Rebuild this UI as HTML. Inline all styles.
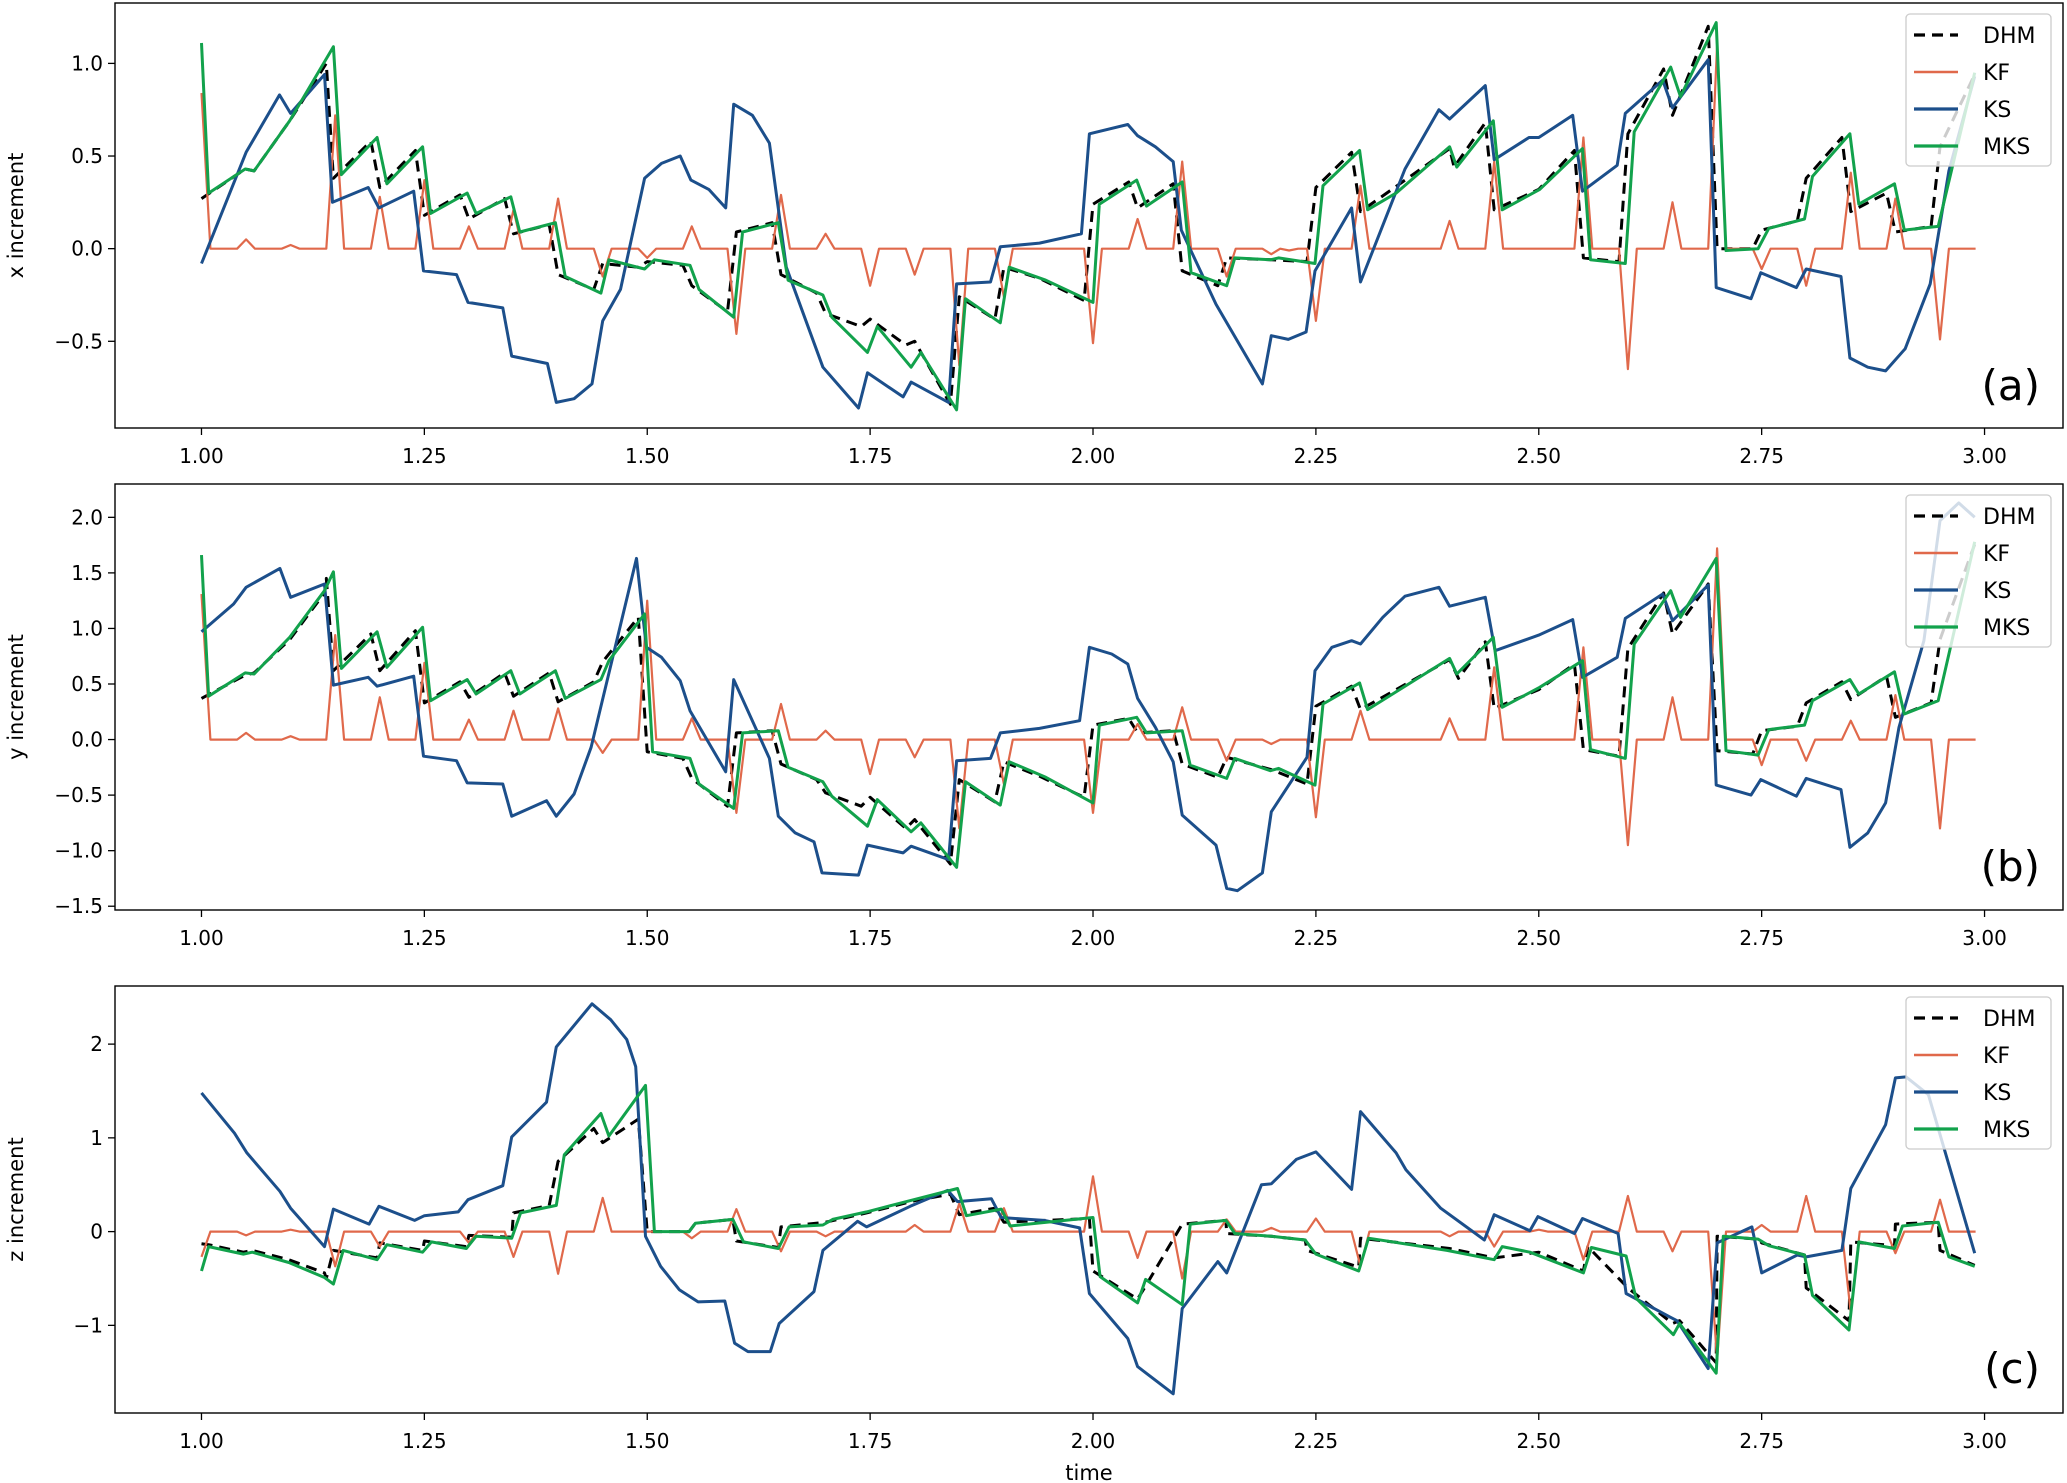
<!DOCTYPE html>
<html><head><meta charset="utf-8"><style>
html,body{margin:0;padding:0;background:#fff;}
svg{display:block;font-family:"DejaVu Sans","Liberation Sans",sans-serif;}
</style></head><body>
<svg id="chart" width="2067" height="1483" viewBox="0 0 2067 1483" xmlns="http://www.w3.org/2000/svg">
<rect x="0" y="0" width="2067" height="1483" fill="#fff"/>
<text x="1089" y="1480" font-size="21" text-anchor="middle" fill="#000">time</text>
</svg>
<script>
const xTicks = [1.00,1.25,1.50,1.75,2.00,2.25,2.50,2.75,3.00];
const xTickLabels = ["1.00","1.25","1.50","1.75","2.00","2.25","2.50","2.75","3.00"];
const seriesNames = ["DHM","KF","KS","MKS"];
const panelNames = ["x increment","y increment","z increment"];
const panelTags = ["(a)","(b)","(c)"];
const yTicksA = [-0.5,0,0.5,1.0];
const yTickLabelsA = ["\u22120.5","0.0","0.5","1.0"];
const yTicksB = [-1.5,-1.0,-0.5,0,0.5,1.0,1.5,2.0];
const yTickLabelsB = ["\u22121.5","\u22121.0","\u22120.5","0.0","0.5","1.0","1.5","2.0"];
const yTicksC = [-1,0,1,2];
const yTickLabelsC = ["\u22121","0","1","2"];

// KF spikes (time, value); baseline 0 between spikes
const kfA_t = [1.00,1.05,1.10,1.15,1.20,1.25,1.30,1.35,1.40,1.45,1.50,1.55,1.60,1.65,1.70,1.75,1.80,1.85,1.90,2.00,2.05,2.10,2.15,2.20,2.22,2.25,2.30,2.40,2.45,2.55,2.60,2.65,2.70,2.75,2.80,2.85,2.90,2.95];
const kfA_v = [0.84,0.05,0.02,0.72,0.28,0.37,0.12,0.21,0.27,-0.15,-0.05,0.12,-0.46,0.29,0.08,-0.2,-0.14,-0.63,-0.26,-0.51,0.16,0.47,-0.15,-0.03,-0.01,-0.39,0.34,0.15,0.47,0.6,-0.65,0.25,1.1,-0.11,-0.2,0.41,0.27,-0.49];
const kfB_t = [1.00,1.05,1.10,1.15,1.20,1.25,1.30,1.35,1.40,1.45,1.50,1.55,1.60,1.65,1.70,1.75,1.80,1.85,1.90,2.00,2.05,2.10,2.15,2.20,2.25,2.30,2.40,2.45,2.55,2.60,2.65,2.70,2.75,2.80,2.85,2.90,2.95];
const kfB_v = [1.31,0.06,0.03,0.94,0.38,0.69,0.18,0.26,0.28,-0.12,1.25,0.19,-0.66,0.32,0.08,-0.31,-0.16,-0.8,-0.4,-0.66,0.14,0.29,-0.19,-0.04,-0.7,0.26,0.19,0.65,0.83,-0.95,0.38,1.72,-0.23,-0.19,0.17,0.4,-0.8];
const kfC_t = [1.00,1.05,1.10,1.15,1.20,1.30,1.35,1.40,1.45,1.55,1.60,1.65,1.70,1.80,1.85,1.90,2.00,2.05,2.10,2.15,2.20,2.25,2.30,2.40,2.45,2.50,2.55,2.60,2.65,2.70,2.75,2.80,2.85,2.90,2.95];
const kfC_v = [-0.27,-0.04,0.02,-0.37,-0.16,-0.12,-0.27,-0.45,0.36,-0.07,0.24,-0.21,-0.05,0.07,0.30,0.25,0.59,-0.28,-0.5,0.13,0.04,0.14,-0.37,-0.05,-0.16,0.02,-0.30,0.38,-0.21,-1.37,0.07,0.38,-0.87,-0.23,0.34];

const ksA = [[1.0,-0.08],[1.05,0.52],[1.0875,0.83],[1.10,0.73],[1.138,0.94],[1.147,0.25],[1.187,0.33],[1.199,0.22],[1.238,0.31],[1.249,-0.12],[1.286,-0.14],[1.299,-0.29],[1.338,-0.32],[1.348,-0.58],[1.388,-0.62],[1.398,-0.83],[1.418,-0.81],[1.438,-0.73],[1.45,-0.39],[1.47,-0.22],[1.497,0.38],[1.516,0.46],[1.537,0.50],[1.549,0.37],[1.569,0.32],[1.588,0.22],[1.597,0.78],[1.618,0.72],[1.637,0.57],[1.656,-0.10],[1.697,-0.64],[1.737,-0.86],[1.747,-0.67],[1.787,-0.80],[1.796,-0.72],[1.838,-0.83],[1.847,-0.19],[1.885,-0.18],[1.896,0.01],[1.94,0.03],[1.987,0.08],[1.996,0.62],[2.039,0.67],[2.05,0.61],[2.07,0.55],[2.09,0.47],[2.099,0.10],[2.138,-0.30],[2.19,-0.73],[2.2,-0.47],[2.219,-0.49],[2.239,-0.45],[2.249,-0.12],[2.29,0.22],[2.30,-0.18],[2.35,0.43],[2.388,0.75],[2.40,0.70],[2.44,0.88],[2.45,0.48],[2.489,0.60],[2.50,0.60],[2.538,0.72],[2.549,0.31],[2.588,0.45],[2.597,0.73],[2.639,0.91],[2.65,0.76],[2.69,1.02],[2.699,-0.21],[2.738,-0.27],[2.749,-0.13],[2.789,-0.21],[2.80,-0.11],[2.839,-0.15],[2.849,-0.59],[2.869,-0.64],[2.889,-0.66],[2.911,-0.54],[2.939,-0.19],[2.96,0.42],[2.989,0.93]];
const mksA = [[1.0,1.11],[1.008,0.30],[1.049,0.43],[1.059,0.42],[1.099,0.69],[1.148,1.09],[1.157,0.40],[1.197,0.60],[1.208,0.35],[1.248,0.55],[1.257,0.19],[1.298,0.30],[1.308,0.19],[1.347,0.28],[1.357,0.09],[1.397,0.14],[1.408,-0.15],[1.448,-0.24],[1.457,-0.06],[1.497,-0.11],[1.508,-0.06],[1.548,-0.09],[1.558,-0.22],[1.597,-0.37],[1.607,0.09],[1.647,0.14],[1.658,-0.17],[1.697,-0.25],[1.707,-0.37],[1.747,-0.56],[1.758,-0.42],[1.796,-0.64],[1.807,-0.56],[1.847,-0.87],[1.857,-0.27],[1.896,-0.40],[1.906,-0.10],[1.947,-0.17],[2.0,-0.29],[2.007,0.24],[2.049,0.37],[2.06,0.23],[2.10,0.36],[2.11,-0.13],[2.15,-0.20],[2.159,-0.05],[2.199,-0.06],[2.208,-0.05],[2.249,-0.08],[2.258,0.34],[2.299,0.53],[2.308,0.21],[2.34,0.30],[2.40,0.55],[2.408,0.44],[2.449,0.69],[2.459,0.21],[2.501,0.32],[2.549,0.54],[2.558,-0.06],[2.597,-0.08],[2.607,0.63],[2.648,0.98],[2.659,0.82],[2.699,1.22],[2.71,-0.01],[2.746,0.0],[2.758,0.11],[2.798,0.16],[2.807,0.39],[2.849,0.62],[2.859,0.24],[2.899,0.35],[2.91,0.10],[2.948,0.12],[2.989,0.95]];
const dhmA = [[1.0,0.27],[1.049,0.43],[1.059,0.42],[1.099,0.69],[1.14,1.0],[1.148,0.38],[1.19,0.58],[1.2,0.33],[1.24,0.53],[1.25,0.18],[1.29,0.29],[1.3,0.16],[1.34,0.27],[1.35,0.08],[1.39,0.13],[1.4,-0.14],[1.44,-0.22],[1.45,-0.08],[1.49,-0.1],[1.5,-0.07],[1.54,-0.09],[1.55,-0.2],[1.59,-0.34],[1.6,0.09],[1.64,0.14],[1.65,-0.14],[1.69,-0.24],[1.7,-0.35],[1.74,-0.42],[1.75,-0.38],[1.79,-0.52],[1.8,-0.5],[1.84,-0.84],[1.85,-0.26],[1.89,-0.38],[1.9,-0.1],[1.94,-0.16],[1.99,-0.28],[2.0,0.24],[2.04,0.36],[2.05,0.22],[2.09,0.35],[2.1,-0.12],[2.14,-0.2],[2.15,-0.05],[2.2,-0.06],[2.24,-0.07],[2.25,0.33],[2.29,0.52],[2.3,0.2],[2.4,0.54],[2.405,0.44],[2.44,0.68],[2.45,0.21],[2.5,0.32],[2.54,0.53],[2.55,-0.05],[2.59,-0.07],[2.6,0.62],[2.64,0.97],[2.65,0.72],[2.69,1.2],[2.7,0],[2.74,0],[2.75,0.1],[2.79,0.15],[2.8,0.38],[2.84,0.6],[2.85,0.2],[2.89,0.3],[2.9,0.09],[2.94,0.12],[2.95,0.55],[2.99,0.95]];

const ksB = [[1.0,0.97],[1.036,1.22],[1.05,1.37],[1.088,1.54],[1.10,1.28],[1.138,1.40],[1.148,0.49],[1.187,0.56],[1.197,0.48],[1.238,0.57],[1.249,-0.15],[1.286,-0.19],[1.298,-0.39],[1.338,-0.40],[1.348,-0.69],[1.387,-0.55],[1.398,-0.69],[1.418,-0.49],[1.437,-0.07],[1.488,1.63],[1.499,0.83],[1.516,0.74],[1.537,0.53],[1.548,0.26],[1.588,-0.29],[1.597,0.54],[1.637,-0.17],[1.647,-0.69],[1.666,-0.84],[1.687,-0.92],[1.696,-1.20],[1.737,-1.22],[1.747,-0.95],[1.787,-1.02],[1.796,-0.96],[1.838,-1.08],[1.847,-0.19],[1.885,-0.17],[1.896,0.06],[1.94,0.10],[1.985,0.17],[1.996,0.83],[2.021,0.77],[2.039,0.68],[2.05,0.37],[2.07,0.11],[2.09,-0.2],[2.10,-0.68],[2.138,-0.95],[2.15,-1.34],[2.162,-1.36],[2.19,-1.20],[2.20,-0.65],[2.24,-0.16],[2.249,0.62],[2.268,0.83],[2.29,0.89],[2.30,0.86],[2.325,1.10],[2.35,1.29],[2.388,1.37],[2.40,1.20],[2.44,1.28],[2.451,0.80],[2.50,0.94],[2.538,1.08],[2.549,0.56],[2.588,0.74],[2.597,1.09],[2.639,1.31],[2.65,1.07],[2.69,1.39],[2.699,-0.41],[2.738,-0.50],[2.749,-0.36],[2.789,-0.51],[2.80,-0.35],[2.839,-0.45],[2.849,-0.97],[2.869,-0.84],[2.889,-0.57],[2.904,0.11],[2.932,0.89],[2.95,1.97],[2.971,2.13],[2.989,2.0]];
const mksB = [[1.0,1.66],[1.008,0.39],[1.049,0.60],[1.059,0.59],[1.099,0.92],[1.138,1.34],[1.148,1.51],[1.157,0.64],[1.197,0.97],[1.208,0.65],[1.248,1.01],[1.257,0.35],[1.298,0.54],[1.308,0.41],[1.347,0.62],[1.357,0.41],[1.397,0.62],[1.408,0.37],[1.448,0.54],[1.457,0.71],[1.497,1.13],[1.506,-0.11],[1.548,-0.17],[1.558,-0.40],[1.597,-0.62],[1.607,0.06],[1.647,0.08],[1.658,-0.25],[1.697,-0.38],[1.707,-0.51],[1.747,-0.78],[1.758,-0.54],[1.796,-0.83],[1.807,-0.75],[1.847,-1.15],[1.857,-0.38],[1.896,-0.59],[1.906,-0.20],[1.947,-0.34],[2.0,-0.57],[2.007,0.13],[2.049,0.20],[2.06,0.06],[2.10,0.08],[2.109,-0.23],[2.15,-0.35],[2.159,-0.17],[2.199,-0.28],[2.208,-0.26],[2.249,-0.41],[2.258,0.32],[2.299,0.51],[2.308,0.27],[2.40,0.73],[2.408,0.59],[2.449,0.92],[2.459,0.29],[2.501,0.47],[2.549,0.71],[2.558,-0.09],[2.597,-0.17],[2.607,0.86],[2.648,1.34],[2.659,1.10],[2.699,1.63],[2.71,-0.10],[2.746,-0.14],[2.758,0.09],[2.798,0.13],[2.807,0.35],[2.849,0.54],[2.859,0.41],[2.899,0.61],[2.91,0.23],[2.948,0.35],[2.989,1.78]];
const dhmB = [[1.0,0.37],[1.049,0.58],[1.059,0.6],[1.099,0.9],[1.138,1.32],[1.14,1.45],[1.148,0.62],[1.19,0.95],[1.2,0.62],[1.24,0.98],[1.25,0.33],[1.29,0.52],[1.3,0.38],[1.34,0.6],[1.35,0.39],[1.39,0.6],[1.4,0.34],[1.44,0.52],[1.45,0.7],[1.49,1.1],[1.5,-0.11],[1.54,-0.17],[1.55,-0.35],[1.59,-0.6],[1.6,0.06],[1.64,0.08],[1.65,-0.22],[1.69,-0.36],[1.7,-0.48],[1.74,-0.6],[1.75,-0.52],[1.79,-0.8],[1.8,-0.72],[1.84,-1.12],[1.85,-0.36],[1.89,-0.56],[1.9,-0.2],[1.94,-0.33],[1.99,-0.52],[2.0,0.13],[2.04,0.19],[2.05,0.06],[2.09,0.08],[2.1,-0.22],[2.14,-0.34],[2.15,-0.16],[2.2,-0.27],[2.24,-0.4],[2.25,0.3],[2.29,0.48],[2.3,0.27],[2.4,0.72],[2.41,0.55],[2.44,0.88],[2.45,0.28],[2.5,0.45],[2.54,0.68],[2.55,-0.09],[2.59,-0.15],[2.6,0.82],[2.64,1.32],[2.65,0.95],[2.69,1.4],[2.7,-0.1],[2.74,-0.13],[2.75,0.08],[2.79,0.12],[2.8,0.33],[2.84,0.52],[2.85,0.36],[2.89,0.57],[2.9,0.2],[2.94,0.33],[2.95,0.9],[2.99,1.78]];

const ksC = [[1.0,1.48],[1.037,1.05],[1.051,0.84],[1.088,0.43],[1.10,0.25],[1.138,-0.16],[1.148,0.24],[1.188,0.08],[1.199,0.27],[1.239,0.12],[1.25,0.17],[1.288,0.21],[1.299,0.34],[1.338,0.49],[1.348,1.01],[1.387,1.38],[1.398,1.97],[1.438,2.43],[1.459,2.26],[1.477,2.05],[1.487,1.76],[1.498,-0.05],[1.515,-0.37],[1.536,-0.62],[1.557,-0.75],[1.587,-0.74],[1.598,-1.19],[1.613,-1.28],[1.638,-1.28],[1.648,-0.98],[1.687,-0.64],[1.697,-0.20],[1.736,0.11],[1.746,0.05],[1.795,0.27],[1.837,0.44],[1.848,0.32],[1.886,0.35],[1.897,0.15],[1.945,0.12],[1.985,0.04],[1.996,-0.66],[2.039,-1.14],[2.05,-1.44],[2.09,-1.73],[2.10,-0.82],[2.14,-0.32],[2.15,-0.44],[2.189,0.50],[2.20,0.51],[2.228,0.77],[2.25,0.85],[2.29,0.45],[2.30,1.28],[2.34,0.84],[2.351,0.66],[2.39,0.25],[2.439,-0.09],[2.45,0.18],[2.49,0.01],[2.499,0.16],[2.54,-0.02],[2.549,0.14],[2.589,-0.02],[2.598,-0.66],[2.647,-0.91],[2.655,-0.95],[2.69,-1.46],[2.70,-0.12],[2.739,0.05],[2.75,-0.44],[2.79,-0.25],[2.80,-0.27],[2.84,-0.20],[2.85,0.46],[2.889,1.14],[2.90,1.64],[2.912,1.65],[2.937,1.46],[2.989,-0.23]];
const mksC = [[1.0,-0.42],[1.008,-0.16],[1.047,-0.24],[1.057,-0.22],[1.098,-0.33],[1.138,-0.49],[1.148,-0.56],[1.159,-0.20],[1.197,-0.30],[1.208,-0.14],[1.248,-0.22],[1.258,-0.11],[1.297,-0.18],[1.308,-0.05],[1.348,-0.07],[1.358,0.20],[1.398,0.28],[1.407,0.82],[1.448,1.26],[1.457,1.02],[1.498,1.56],[1.508,0],[1.547,0],[1.554,0.09],[1.596,0.13],[1.608,-0.11],[1.647,-0.18],[1.659,0.05],[1.697,0.07],[1.708,0.13],[1.746,0.21],[1.799,0.34],[1.848,0.46],[1.858,0.17],[1.897,0.24],[1.907,0.06],[2.0,0.15],[2.008,-0.48],[2.05,-0.76],[2.059,-0.51],[2.10,-0.78],[2.109,0.08],[2.149,0.12],[2.159,-0.02],[2.2,-0.05],[2.238,-0.09],[2.25,-0.24],[2.298,-0.42],[2.309,-0.07],[2.397,-0.20],[2.45,-0.30],[2.459,-0.16],[2.49,-0.22],[2.55,-0.44],[2.559,-0.17],[2.598,-0.26],[2.609,-0.71],[2.651,-1.10],[2.658,-0.98],[2.699,-1.51],[2.707,-0.05],[2.746,-0.08],[2.758,-0.15],[2.798,-0.25],[2.807,-0.68],[2.848,-1.05],[2.859,-0.11],[2.899,-0.18],[2.908,0.06],[2.948,0.10],[2.96,-0.27],[2.989,-0.37]];
const dhmC = [[1.0,-0.13],[1.008,-0.14],[1.047,-0.22],[1.057,-0.2],[1.098,-0.3],[1.138,-0.44],[1.14,-0.5],[1.148,-0.2],[1.197,-0.28],[1.2,-0.12],[1.248,-0.2],[1.25,-0.1],[1.297,-0.16],[1.3,-0.04],[1.348,-0.06],[1.35,0.2],[1.39,0.28],[1.4,0.75],[1.44,1.1],[1.45,0.95],[1.49,1.2],[1.5,0],[1.547,0],[1.554,0.09],[1.596,0.13],[1.6,-0.1],[1.647,-0.17],[1.65,0.05],[1.7,0.1],[1.746,0.2],[1.8,0.33],[1.84,0.4],[1.85,0.18],[1.89,0.25],[1.9,0.1],[1.996,0.14],[2.0,-0.42],[2.05,-0.72],[2.059,-0.58],[2.1,0.08],[2.149,0.12],[2.15,-0.02],[2.2,-0.05],[2.238,-0.09],[2.24,-0.2],[2.298,-0.38],[2.3,-0.07],[2.4,-0.18],[2.45,-0.28],[2.5,-0.22],[2.55,-0.42],[2.555,-0.16],[2.6,-0.6],[2.65,-0.98],[2.658,-0.95],[2.699,-1.4],[2.7,-0.05],[2.746,-0.08],[2.75,-0.12],[2.798,-0.25],[2.8,-0.6],[2.848,-0.95],[2.85,-0.11],[2.899,-0.15],[2.9,0.08],[2.948,0.1],[2.95,-0.2],[2.989,-0.36]];

const NS = "http://www.w3.org/2000/svg";
const svg = document.getElementById('chart');
const COL = {DHM:"#000000", KF:"#e0694b", KS:"#1c4f8b", MKS:"#12a24c"};
const AX_L = 115, AX_R = 2063, XMIN = 0.903, XMAX = 3.088;
function xScale(t){ return AX_L + (t - XMIN) / (XMAX - XMIN) * (AX_R - AX_L); }
function mk(tag, attrs, parent){
  const e = document.createElementNS(NS, tag);
  for (const k in attrs) e.setAttribute(k, attrs[k]);
  (parent || svg).appendChild(e);
  return e;
}
function kfPoints(ts, vs){
  const pts = [];
  for (let i = 0; i < ts.length; i++){
    const t = ts[i];
    if (t > 1.0001) pts.push([t - 0.01, 0]);
    pts.push([t, vs[i]]);
    pts.push([t + 0.01, 0]);
  }
  pts.push([2.99, 0]);
  return pts;
}

const panels = [
  {top:3, bottom:428, ymin:-0.968, ymax:1.326, ticks:yTicksA, labels:yTickLabelsA, kfT:kfA_t, kfV:kfA_v, ks:ksA, mks:mksA, dhm:dhmA, key:"a"},
  {top:484, bottom:910, ymin:-1.534, ymax:2.30, ticks:yTicksB, labels:yTickLabelsB, kfT:kfB_t, kfV:kfB_v, ks:ksB, mks:mksB, dhm:dhmB, key:"b"},
  {top:986, bottom:1413, ymin:-1.935, ymax:2.62, ticks:yTicksC, labels:yTickLabelsC, kfT:kfC_t, kfV:kfC_v, ks:ksC, mks:mksC, dhm:dhmC, key:"c"}
];

panels.forEach((p, pi) => {
  const yScale = v => p.bottom - (v - p.ymin) / (p.ymax - p.ymin) * (p.bottom - p.top);
  const g = mk('g', {});
  
  
  const cp = mk('clipPath', {id:'clip' + pi}, g);
  mk('rect', {x:AX_L, y:p.top, width:AX_R-AX_L, height:p.bottom-p.top}, cp);

  // series
  const lineStyle = {
    DHM:{pts:p.dhm, w:3, dash:"11,7"},
    KF:{pts:kfPoints(p.kfT, p.kfV), w:2.2, dash:null},
    KS:{pts:p.ks, w:3, dash:null},
    MKS:{pts:p.mks, w:3, dash:null}
  };
  seriesNames.forEach(name => {
    const s = lineStyle[name];
    const d = s.pts.map((q, i) => (i ? 'L' : 'M') + xScale(q[0]).toFixed(1) + ',' + yScale(q[1]).toFixed(1)).join('');
    const attrs = {d:d, fill:'none', stroke:COL[name], 'stroke-width':s.w, 'stroke-linejoin':'round', 'clip-path':'url(#clip' + pi + ')'};
    if (s.dash) attrs['stroke-dasharray'] = s.dash;
    const path = mk('path', attrs, g);
    
    
  });

  // frame
  const frame = mk('rect', {x:AX_L, y:p.top, width:AX_R-AX_L, height:p.bottom-p.top, fill:'none', stroke:'#000', 'stroke-width':1.4}, g);
  
  

  // x ticks
  xTicks.forEach((t, i) => {
    const x = xScale(t);
    mk('line', {x1:x, x2:x, y1:p.bottom, y2:p.bottom+7, stroke:'#000', 'stroke-width':1.3}, g);
    const tx = mk('text', {x:x, y:p.bottom+35, 'font-size':20, 'text-anchor':'middle', fill:'#000'}, g);
    tx.textContent = xTickLabels[i];
    
    
  });
  // y ticks
  p.ticks.forEach((v, i) => {
    const y = yScale(v);
    mk('line', {x1:AX_L-7, x2:AX_L, y1:y, y2:y, stroke:'#000', 'stroke-width':1.3}, g);
    const ty = mk('text', {x:AX_L-12, y:y+7, 'font-size':20, 'text-anchor':'end', fill:'#000'}, g);
    ty.textContent = p.labels[i];
    
    
  });
  // y title
  const cy = (p.top + p.bottom) / 2;
  const yt = mk('text', {x:0, y:0, 'font-size':21, 'text-anchor':'middle', fill:'#000', transform:'translate(23,' + cy + ') rotate(-90)'}, g);
  yt.textContent = panelNames[pi];
  
  

  // panel tag
  const tag = mk('text', {x:2040, y:p.top+397, 'font-size':42, 'text-anchor':'end', fill:'#000'}, g);
  tag.textContent = panelTags[pi];
  
  

  // legend
  const lg = mk('g', {}, g);
  
  
  mk('rect', {x:1906, y:p.top+11, width:145, height:152, rx:4, fill:'#fff', 'fill-opacity':0.8, stroke:'#cccccc', 'stroke-width':1.3}, lg);
  seriesNames.forEach((name, i) => {
    const y = p.top + 32 + i * 37;
    const e = mk('g', {}, lg);
    
    
    const la = {x1:1914, x2:1958, y1:y, y2:y, stroke:COL[name], 'stroke-width':name === 'KF' ? 2.4 : 3.2};
    if (name === 'DHM') la['stroke-dasharray'] = '11,7';
    mk('line', la, e);
    const lt = mk('text', {x:1983, y:y+8, 'font-size':22, fill:'#000'}, e);
    lt.textContent = name;
  });
});
</script>
</body></html>
